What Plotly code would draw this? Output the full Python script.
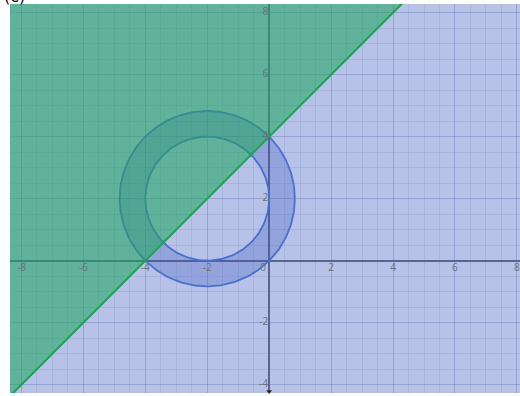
import numpy as np
import plotly.graph_objects as go

# Region data
circle_center = (-2, 2)
inner_radius = 2.0
outer_radius = 2 * np.sqrt(2)          # passes through (0,0), (-4,0), (0,4)
line_points_x = [-4, 0]                 # boundary line y = x + 4
line_points_y = [0, 4]

x_range = [-8.37, 8.1]
y_range = [-4.27, 8.28]

x_tick_vals = [-8, -6, -4, -2, 2, 4, 6, 8]
y_tick_vals = [-4, -2, 2, 4, 6, 8]

# Line through the two points
slope = (line_points_y[1] - line_points_y[0]) / (line_points_x[1] - line_points_x[0])
intercept = line_points_y[0] - slope * line_points_x[0]

theta = np.linspace(0, 2 * np.pi, 240)
cx, cy = circle_center
outer_x = cx + outer_radius * np.cos(theta)
outer_y = cy + outer_radius * np.sin(theta)
inner_x = cx + inner_radius * np.cos(theta[::-1])
inner_y = cy + inner_radius * np.sin(theta[::-1])

fig = go.Figure()

# annulus fill (outer CCW then inner CW)
fig.add_trace(go.Scatter(
    x=np.concatenate([outer_x, inner_x]),
    y=np.concatenate([outer_y, inner_y]),
    mode='lines', fill='toself', line=dict(width=0),
    fillcolor='rgba(55,85,185,0.28)', hoverinfo='skip'))

# circle outlines
for r in [outer_radius, inner_radius]:
    fig.add_trace(go.Scatter(
        x=cx + r * np.cos(theta), y=cy + r * np.sin(theta),
        mode='lines', line=dict(color='#4a6fd0', width=1.8), hoverinfo='skip'))

# green half-plane y > x + 4
xs = np.array([-12, 12])
fig.add_trace(go.Scatter(
    x=[xs[0], xs[1], xs[0], xs[0]],
    y=[slope * xs[0] + intercept, slope * xs[1] + intercept, 20, slope * xs[0] + intercept],
    mode='lines', fill='toself', line=dict(width=0),
    fillcolor='rgba(31,165,95,0.57)', hoverinfo='skip'))

# boundary line
fig.add_trace(go.Scatter(
    x=xs, y=slope * xs + intercept, mode='lines',
    line=dict(color='#1fa055', width=2), hoverinfo='skip'))

# tick labels along the axes
lab_font = dict(family='Open Sans, Arial', size=10, color='#6a6f7e')
fig.add_trace(go.Scatter(
    x=x_tick_vals + [-0.2], y=[-0.25] * (len(x_tick_vals) + 1),
    text=[str(v) for v in x_tick_vals] + ['0'],
    mode='text', textposition='middle center', textfont=lab_font,
    cliponaxis=False, hoverinfo='skip'))
fig.add_trace(go.Scatter(
    x=[-0.03] * len(y_tick_vals), y=y_tick_vals,
    text=[str(v) for v in y_tick_vals],
    mode='text', textposition='middle left', textfont=lab_font,
    cliponaxis=False, hoverinfo='skip'))

# small arrow tip at the bottom of the y-axis
fig.add_trace(go.Scatter(
    x=[0], y=[y_range[0] + 0.05], mode='markers',
    marker=dict(symbol='triangle-down', size=5, color='#222'),
    cliponaxis=False, hoverinfo='skip'))

axis_common = dict(
    dtick=2, showgrid=True, gridcolor='rgba(70,80,150,0.28)', gridwidth=1,
    minor=dict(dtick=0.5, showgrid=True, gridcolor='rgba(70,80,150,0.11)', gridwidth=1),
    zeroline=True, zerolinecolor='#5b6690', zerolinewidth=1.6,
    showticklabels=False, ticks='', showline=False, fixedrange=True,
)

fig.update_layout(
    width=520, height=396,
    margin=dict(l=10, r=0, t=4, b=3),
    paper_bgcolor='white',
    plot_bgcolor='#b6c2e8',
    showlegend=False,
    xaxis=dict(range=x_range, **axis_common),
    yaxis=dict(range=y_range, **axis_common),
    annotations=[dict(
        text='(c)', xref='paper', yref='paper', x=0, y=1, xanchor='left', yanchor='bottom',
        yshift=-4, xshift=-8, showarrow=False,
        font=dict(family='DejaVu Sans', size=16, color='black'))],
)

# the page body has a default 8px margin; drop it so the figure fills the window
fig.write_html("out.html", config=dict(displayModeBar=False),
               post_script="document.body.style.margin='0';")
